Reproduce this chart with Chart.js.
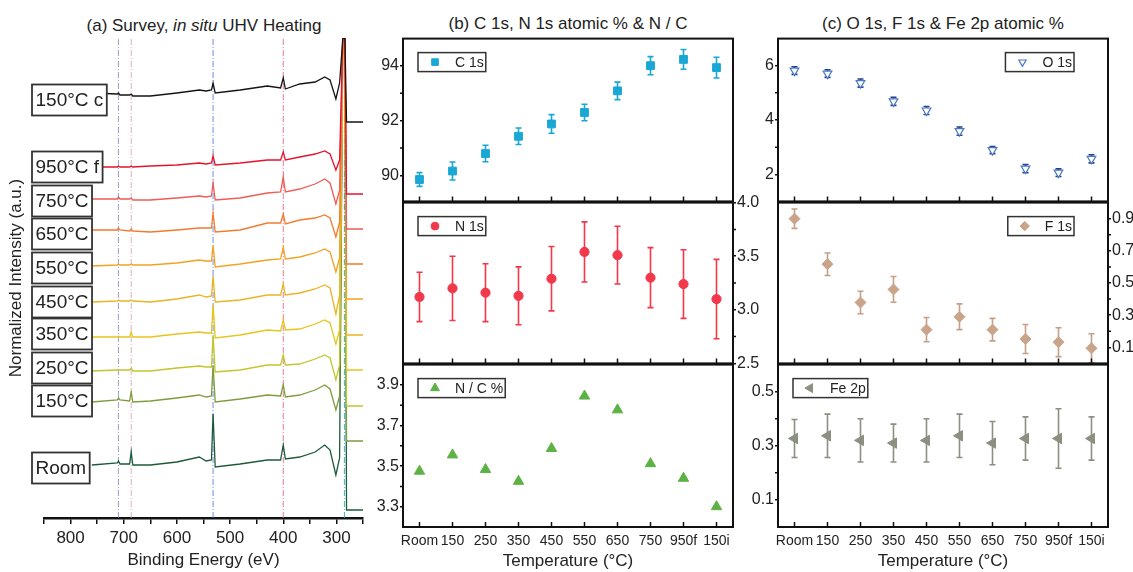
<!DOCTYPE html>
<html>
<head>
<meta charset="utf-8">
<script src="https://cdn.jsdelivr.net/npm/chart.js"></script>
<style>
  body { margin: 0; background: #fff; width: 1133px; height: 572px; position: relative; overflow: hidden;
         font-family: "Liberation Sans", Arial, sans-serif; color: #222; }
  canvas { position: absolute; }
  .ttl { position: absolute; font-size: 17px; line-height: 20px; white-space: nowrap; transform: translateX(-50%); }
</style>
</head>
<body>
<div class="ttl" style="left:204px;top:16px">(a) Survey, <i>in situ</i> UHV Heating</div>
<div class="ttl" style="left:568px;top:14px">(b) C 1s, N 1s atomic % &amp; N / C</div>
<div class="ttl" style="left:943px;top:14px">(c) O 1s, F 1s &amp; Fe 2p atomic %</div>
<canvas id="survey" width="375" height="572" style="left:0;top:0"></canvas>
<canvas id="b1" width="440" height="184" style="left:340px;top:28px"></canvas>
<canvas id="b2" width="440" height="182" style="left:340px;top:192px"></canvas>
<canvas id="b3" width="440" height="218" style="left:340px;top:354px"></canvas>
<canvas id="c1" width="440" height="184" style="left:715px;top:28px"></canvas>
<canvas id="c2" width="440" height="182" style="left:715px;top:192px"></canvas>
<canvas id="c3" width="440" height="218" style="left:715px;top:354px"></canvas>
<script>
// ---- (b) and (c): atomic % vs temperature ----
const categories = ['Room', '150', '250', '350', '450', '550', '650', '750', '950f', '150i'];

const c1s    = [89.85, 90.16, 90.80, 91.43, 91.88, 92.30, 93.09, 94.01, 94.24, 93.94];
const c1sErr = [0.25, 0.33, 0.30, 0.30, 0.34, 0.30, 0.32, 0.33, 0.36, 0.38];
const n1s    = [3.12, 3.20, 3.16, 3.13, 3.29, 3.54, 3.51, 3.30, 3.24, 3.10];
const n1sErr = [0.23, 0.30, 0.27, 0.27, 0.30, 0.28, 0.27, 0.28, 0.32, 0.37];
const nToC   = [3.475, 3.555, 3.483, 3.425, 3.587, 3.845, 3.777, 3.512, 3.44, 3.30];
const o1s    = [5.82, 5.71, 5.36, 4.69, 4.35, 3.59, 2.89, 2.21, 2.06, 2.57];
const o1sErr = [0.14, 0.14, 0.15, 0.15, 0.15, 0.15, 0.13, 0.15, 0.14, 0.15];
const f1s    = [0.90, 0.617, 0.379, 0.46, 0.21, 0.29, 0.21, 0.152, 0.132, 0.094];
const f1sErr = [0.06, 0.07, 0.07, 0.08, 0.075, 0.08, 0.07, 0.09, 0.09, 0.09];
const fe2p   = [0.327, 0.337, 0.32, 0.31, 0.32, 0.337, 0.31, 0.327, 0.327, 0.327];
const fe2pErr = [0.07, 0.08, 0.08, 0.07, 0.08, 0.08, 0.08, 0.08, 0.11, 0.08];

const c1sTicks = [90, 92, 94];
const n1sTicks = [2.5, 3.0, 3.5, 4.0];
const nToCTicks = [3.3, 3.5, 3.7, 3.9];
const o1sTicks = [2, 4, 6];
const f1sTicks = [0.1, 0.3, 0.5, 0.7, 0.9];
const fe2pTicks = [0.1, 0.3, 0.5];

// ---- (a): survey spectra, binding energy grid and stacked curves (a.u.) ----
const bindingE = [760, 712, 710, 707, 689, 686, 683, 650, 600, 558, 545, 535, 532, 528, 481,
                  430, 405, 400, 396, 369, 340, 322, 312, 301, 294, 288, 284, 281, 250];
const curveLabels = ['150°C c', '950°C f', '750°C', '650°C', '550°C', '450°C', '350°C', '250°C', '150°C', 'Room'];
const labelLevels = [418, 351, 317, 284, 250, 216, 184, 150, 117, 50];

const curve150c = [425,424,425,423,423,424,422,422,425,428,427,428,435,425,428,432,430,440,429,434,436,441,438,419,435,480,480,396,396];
const curve950f = [351,351,352,351,351,352,351,352,353,355,354,355,362,353,355,358,358,366,358,361,364,367,364,348,358,480,480,324,324];
const curve750  = [319,319,321,319,319,320,318,318,320,322,321,322,335,318,320,325,326,341,326,329,334,339,335,314,328,480,480,289,289];
const curve650  = [288,288,290,288,287,289,287,286,288,290,290,290,305,286,288,295,295,304,294,298,300,303,300,281,296,480,480,254,254];
const curve550  = [252,253,254,253,253,254,253,253,255,258,257,257,273,251,254,258,259,271,259,261,265,269,266,246,260,480,480,219,219];
const curve450  = [216,217,218,217,217,218,217,216,219,223,221,222,242,216,218,223,223,234,223,225,229,233,230,204,223,480,480,183,183];
const curve350  = [181,181,182,181,181,186,181,181,184,186,185,185,213,180,183,188,187,198,188,189,194,198,195,174,188,480,480,148,148];
const curve250  = [147,148,148,148,148,150,147,147,150,152,151,151,183,146,148,153,153,163,153,154,159,163,160,138,153,480,480,112,112];
const curve150  = [116,118,120,118,117,126,116,117,120,123,121,122,153,116,119,123,122,133,121,123,128,133,129,108,122,480,480,77,77];
const curveRoom = [53,55,57,54,54,66,53,53,56,61,57,58,104,51,54,58,58,73,59,61,66,73,68,43,60,480,480,8,8];

const refLines = [710, 686, 532, 400, 285];
const surveyTicks = [250, 300, 350, 400, 450, 500, 550, 600, 650, 700, 750, 800, 850];
const surveyLabels = [300, 400, 500, 600, 700, 800];

const FONT = '"Liberation Sans", Arial, sans-serif';
Chart.defaults.font.family = FONT;
Chart.defaults.color = '#222';

const surveyCurves = [curve150c, curve950f, curve750, curve650, curve550, curve450, curve350, curve250, curve150, curveRoom];
const surveyColors = ['#141414', '#e5132c', '#ef5b55', '#f27b2f', '#f2a221', '#e9b524', '#e6c51d', '#c3c52c', '#7f9c3c', '#1d5a3a'];
const refColors = ['rgba(120,125,190,0.75)', 'rgba(210,150,170,0.75)', 'rgba(80,115,210,0.8)', 'rgba(225,90,120,0.8)', 'rgba(30,175,180,0.9)'];

const surveyDatasets = surveyCurves.map((vals, i) => ({
  label: curveLabels[i],
  data: vals.map((v, k) => ({ x: bindingE[k], y: v })),
  borderColor: surveyColors[i],
  borderWidth: 1.3,
  pointRadius: 0,
  tension: 0
}));
refLines.forEach((e, i) => surveyDatasets.push({
  label: '',
  data: [{ x: e, y: 0 }, { x: e, y: 480 }],
  borderColor: refColors[i],
  borderWidth: 1,
  borderDash: [6, 2, 1, 2],
  pointRadius: 0
}));

const labelBoxes = {
  id: 'labelBoxes',
  afterDatasetsDraw(chart) {
    const ctx = chart.ctx, ys = chart.scales.y;
    ctx.save();
    ctx.font = '19px ' + FONT;
    ctx.textBaseline = 'middle';
    curveLabels.forEach((txt, i) => {
      const yc = ys.getPixelForValue(labelLevels[i]);
      const w = ctx.measureText(txt).width + 7;
      ctx.fillStyle = '#fff';
      ctx.fillRect(32, yc - 15.5, w, 31);
      ctx.lineWidth = 1.8;
      ctx.strokeStyle = '#333';
      ctx.strokeRect(32, yc - 15.5, w, 31);
      ctx.fillStyle = '#222';
      ctx.fillText(txt, 35.5, yc + 1);
    });
    ctx.restore();
  }
};

new Chart(document.getElementById('survey'), {
  type: 'line',
  data: { datasets: surveyDatasets },
  options: {
    responsive: false,
    animation: false,
    events: [],
    layout: { padding: { top: 38, right: 12, left: 0, bottom: 0 } },
    plugins: { legend: { display: false }, tooltip: { enabled: false } },
    scales: {
      x: {
        type: 'linear', reverse: true, min: 250, max: 850,
        afterBuildTicks: s => { s.ticks = surveyTicks.map(v => ({ value: v })); },
        afterFit: s => { s.height = 54; },
        border: { display: true, color: '#111', width: 2.5 },
        grid: { drawOnChartArea: false, color: '#111', lineWidth: 1.5, tickLength: 6 },
        ticks: { autoSkip: false, maxRotation: 0, padding: 4, font: { size: 17 },
                 callback: v => surveyLabels.includes(v) ? String(v) : '' },
        title: { display: true, text: 'Binding Energy (eV)', font: { size: 17 }, padding: { top: 0, bottom: 1 } }
      },
      y: {
        min: 0, max: 480,
        afterFit: s => { s.width = 44; },
        grid: { display: false, drawTicks: false },
        border: { display: false },
        ticks: { display: false },
        title: { display: true, text: 'Normalized Intensity (a.u.)', font: { size: 17 }, padding: { top: 6, bottom: 0 } }
      }
    }
  },
  plugins: [labelBoxes]
});

function framePlugin(o) {
  return {
    id: 'frame',
    beforeDatasetsDraw(chart) {
      if (!o.err) return;
      const { ctx, scales: { x, y } } = chart;
      ctx.save();
      ctx.strokeStyle = o.errColor || o.color;
      ctx.lineWidth = 1.6;
      o.data.forEach((v, i) => {
        const px = x.getPixelForValue(i);
        const top = y.getPixelForValue(v + o.err[i]);
        const bot = y.getPixelForValue(v - o.err[i]);
        ctx.beginPath();
        ctx.moveTo(px, top); ctx.lineTo(px, bot);
        ctx.moveTo(px - 3, top); ctx.lineTo(px + 3, top);
        ctx.moveTo(px - 3, bot); ctx.lineTo(px + 3, bot);
        ctx.stroke();
      });
      ctx.restore();
    },
    afterDraw(chart) {
      const { ctx, chartArea: a, scales: { x, y } } = chart;
      ctx.save();
      ctx.strokeStyle = '#111';
      ctx.lineWidth = 2;
      ctx.strokeRect(a.left, a.top, a.right - a.left, a.bottom - a.top);
      ctx.lineWidth = 1.5;
      ctx.beginPath();
      categories.forEach((c, i) => {
        const px = x.getPixelForValue(i);
        ctx.moveTo(px, a.bottom);
        ctx.lineTo(px, a.bottom - 5);
      });
      const step = o.ticks[1] - o.ticks[0];
      const edge = o.axis === 'right' ? a.right : a.left;
      const dir = o.axis === 'right' ? 1 : -1;
      for (let v = o.ticks[0] - step / 2; v < o.max - 1e-6; v += step) {
        if (v <= o.min + 1e-6) continue;
        const py = y.getPixelForValue(v);
        ctx.moveTo(edge, py);
        ctx.lineTo(edge + dir * 3, py);
      }
      ctx.stroke();

      // legend box
      ctx.font = '14px ' + FONT;
      const tw = ctx.measureText(o.label).width;
      const bw = tw + 39, bh = 19;
      const bx = o.legend === 'right' ? a.right - 34 - bw : a.left + 15;
      const by = a.top + 14;
      ctx.fillStyle = '#fff';
      ctx.fillRect(bx, by, bw, bh);
      ctx.strokeStyle = '#333';
      ctx.lineWidth = 1.5;
      ctx.strokeRect(bx, by, bw, bh);
      ctx.fillStyle = o.fill;
      ctx.strokeStyle = o.color;
      ctx.lineWidth = o.bw || 1;
      Chart.helpers.drawPoint(ctx, { pointStyle: o.style, radius: o.r * 0.85, rotation: o.rot || 0, borderWidth: o.bw || 1 },
                              bx + 17, by + bh / 2);
      ctx.fillStyle = '#222';
      ctx.textBaseline = 'middle';
      ctx.fillText(o.label, bx + 37, by + bh / 2 + 1);
      ctx.restore();
    }
  };
}

function subplot(id, o) {
  const right = o.axis === 'right';
  return new Chart(document.getElementById(id), {
    type: 'line',
    data: {
      labels: categories,
      datasets: [{
        label: o.label,
        data: o.data,
        showLine: false,
        pointStyle: o.style,
        rotation: o.rot || 0,
        pointRadius: o.r,
        pointBackgroundColor: o.fill,
        pointBorderColor: o.color,
        pointBorderWidth: o.bw || 1
      }]
    },
    options: {
      responsive: false,
      animation: false,
      events: [],
      layout: { padding: { top: 10, bottom: o.xTitle ? 0 : 10, left: right ? 63 : 0, right: right ? 0 : 47 } },
      plugins: { legend: { display: false }, tooltip: { enabled: false } },
      scales: {
        x: {
          offset: true,
          display: !!o.xTitle,
          grid: { display: false, drawTicks: false },
          border: { display: false },
          afterFit: s => { if (o.xTitle) s.height = 45; },
          ticks: { autoSkip: false, maxRotation: 0, padding: 6, font: { size: 14 } },
          title: { display: !!o.xTitle, text: 'Temperature (°C)', font: { size: 17 }, padding: 0 }
        },
        y: {
          position: o.axis,
          min: o.min, max: o.max,
          afterBuildTicks: s => { s.ticks = o.ticks.map(v => ({ value: v })); },
          afterFit: s => { s.width = right ? 47 : 63; },
          grid: { drawOnChartArea: false, color: '#111', lineWidth: 1.5, tickLength: 3 },
          border: { display: false },
          ticks: { padding: 1, font: { size: 16 }, callback: v => v.toFixed(o.dec) }
        }
      }
    },
    plugins: [framePlugin(o)]
  });
}

subplot('b1', { label: 'C 1s', data: c1s, err: c1sErr, style: 'rect', r: 5.5, color: '#19a7d5', fill: '#19a7d5',
  min: 89.05, max: 95.0, ticks: c1sTicks, dec: 0, axis: 'left', legend: 'left' });
subplot('b2', { label: 'N 1s', data: n1s, err: n1sErr, style: 'circle', r: 4.6, color: '#f2394b', fill: '#f2394b',
  min: 2.5, max: 4.0, ticks: n1sTicks, dec: 1, axis: 'right', legend: 'left' });
subplot('b3', { label: 'N / C %', data: nToC, style: 'triangle', r: 6, color: '#5db244', fill: '#5db244',
  min: 3.2, max: 4.0, ticks: nToCTicks, dec: 1, axis: 'left', legend: 'left', xTitle: true });
subplot('c1', { label: 'O 1s', data: o1s, err: o1sErr, style: 'triangle', rot: 180, r: 5, color: '#4a78c4', fill: '#ffffff',
  bw: 1.2, errColor: '#22428e', min: 1, max: 7, ticks: o1sTicks, dec: 0, axis: 'left', legend: 'right' });
subplot('c2', { label: 'F 1s', data: f1s, err: f1sErr, style: 'rectRot', r: 5.5, color: '#c9a48b', fill: '#c9a48b',
  errColor: '#c4a088', min: 0, max: 1.0, ticks: f1sTicks, dec: 1, axis: 'right', legend: 'right' });
subplot('c3', { label: 'Fe 2p', data: fe2p, err: fe2pErr, style: 'triangle', rot: 270, r: 6, color: '#8b9081', fill: '#8b9081',
  min: 0, max: 0.6, ticks: fe2pTicks, dec: 1, axis: 'left', legend: 'left', xTitle: true });
</script>
</body>
</html>
